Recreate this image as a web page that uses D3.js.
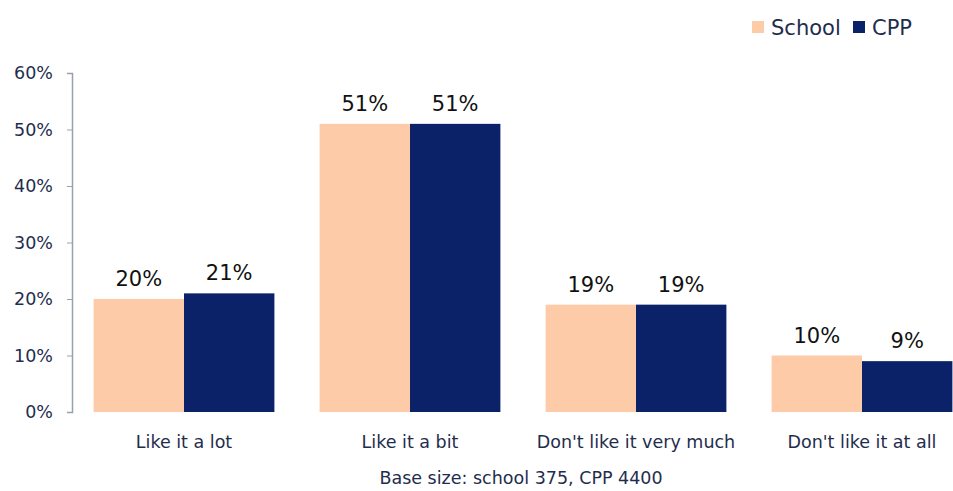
<!DOCTYPE html>
<html>
<head>
<meta charset="utf-8">
<script src="https://cdn.jsdelivr.net/npm/d3@7"></script>
<style>
  html, body { margin: 0; padding: 0; background: #fff; }
  svg text { font-family: "DejaVu Sans", Verdana, sans-serif; fill: #1f2d4d; }
</style>
</head>
<body>
<svg id="chart" width="953" height="491"></svg>
<script>
// Responses by category
const categories = ["Like it a lot", "Like it a bit", "Don't like it very much", "Don't like it at all"];
const seriesNames = ["School", "CPP"];
const schoolValues = [20, 51, 19, 10];
const cppValues = [21, 51, 19, 9];
const yTicks = [0, 10, 20, 30, 40, 50, 60];
const footnote = "Base size: school 375, CPP 4400";

const colors = { School: "#fdcba8", CPP: "#0b2268" };

const svg = d3.select("#chart");

const x = d3.scaleBand()
  .domain(categories)
  .range([71, 975])
  .paddingInner(0.2)
  .paddingOuter(0.1);

const xSub = d3.scaleBand()
  .domain(seriesNames)
  .range([0, x.bandwidth()])
  .padding(0);

const y = d3.scaleLinear()
  .domain([0, 60])
  .range([412, 73]);

// Y axis
const yAxis = d3.axisLeft(y)
  .tickValues(yTicks)
  .tickFormat(d => d + "%")
  .tickSize(5)
  .tickPadding(14);

const yG = svg.append("g")
  .attr("transform", "translate(72,0)")
  .call(yAxis);
yG.select(".domain").attr("stroke", "#9aa0ab").attr("stroke-width", 1.5);
yG.selectAll(".tick line").attr("stroke", "#9aa0ab");
yG.selectAll(".tick text")
  .style("font-size", "17.5px")
  .attr("fill", "#1f2d4d");

// Bars
const rows = categories.map((c, i) => ({
  category: c,
  values: [
    { series: "School", value: schoolValues[i] },
    { series: "CPP", value: cppValues[i] }
  ]
}));

const groups = svg.append("g")
  .selectAll("g")
  .data(rows)
  .join("g")
  .attr("transform", d => `translate(${x(d.category)},0)`);

groups.selectAll("rect")
  .data(d => d.values)
  .join("rect")
  .attr("x", d => xSub(d.series))
  .attr("y", d => y(d.value))
  .attr("width", xSub.bandwidth())
  .attr("height", d => y(0) - y(d.value))
  .attr("fill", d => colors[d.series]);

// Value labels
groups.selectAll("text.val")
  .data(d => d.values)
  .join("text")
  .attr("class", "val")
  .attr("x", d => xSub(d.series) + xSub.bandwidth() / 2)
  .attr("y", d => y(d.value) - 13)
  .attr("text-anchor", "middle")
  .style("font-size", "21px")
  .style("fill", "#111")
  .text(d => d.value + "%");

// Category labels
svg.append("g")
  .selectAll("text")
  .data(categories)
  .join("text")
  .attr("x", d => x(d) + x.bandwidth() / 2)
  .attr("y", 448)
  .attr("text-anchor", "middle")
  .style("font-size", "17.5px")
  .text(d => d);

// Footnote
svg.append("text")
  .attr("x", 521)
  .attr("y", 484)
  .attr("text-anchor", "middle")
  .style("font-size", "17.5px")
  .text(footnote);

// Legend
const legend = svg.append("g").attr("transform", "translate(752,27)");
const legendPos = [0, 101];
seriesNames.forEach((s, i) => {
  const g = legend.append("g").attr("transform", `translate(${legendPos[i]},0)`);
  g.append("rect")
    .attr("x", 0).attr("y", -6)
    .attr("width", 12).attr("height", 12)
    .attr("fill", colors[s]);
  g.append("text")
    .attr("x", 19).attr("y", 8)
    .style("font-size", "21px")
    .text(s);
});
</script>
</body>
</html>
